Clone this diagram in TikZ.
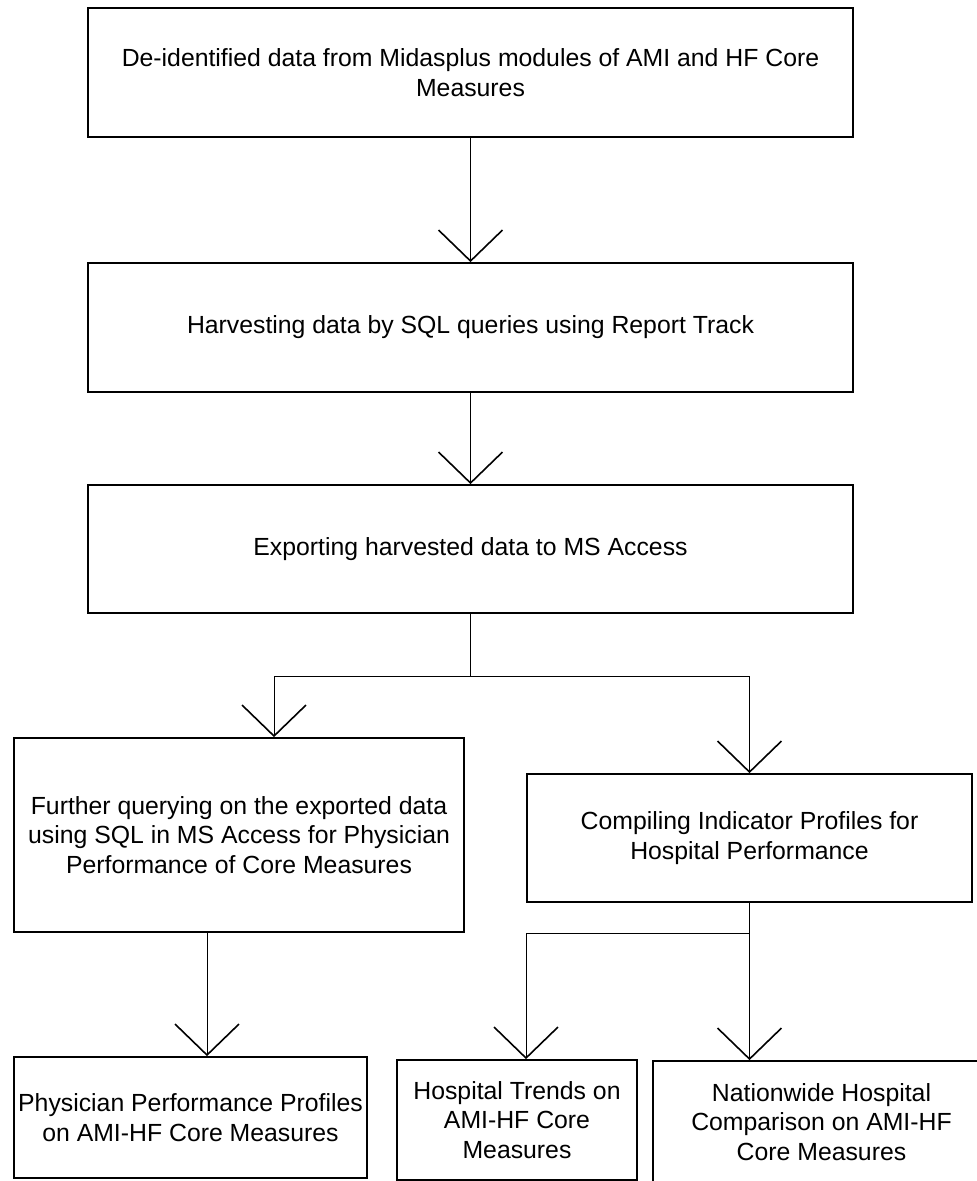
\documentclass[tikz,border=0pt]{standalone}
\usepackage{fontspec}
\setmainfont{Liberation Sans}
\usetikzlibrary{arrows.meta}
\begin{document}
\begin{tikzpicture}[x=0.75pt,y=-0.75pt,
  box/.style={draw=black, line width=1.3pt, align=center, inner sep=0pt,
    font=\fontsize{18.6pt}{22.4pt}\selectfont},
  conn/.style={draw=black, line width=0.75pt},
  arr/.style={-{Straight Barb[length=23.25pt,width=48pt,line width=1.2pt]}},
]
\useasboundingbox (0,0) rectangle (977,1181);
\clip (0,0) rectangle (977,1181);
\fill[white] (0,0) rectangle (977,1181);

\node[box, minimum width={765*0.75pt}, minimum height={129*0.75pt}] (b1) at (470.5,72.5)
  {De-identified data from Midasplus modules of AMI and HF Core\\Measures};
\node[box, minimum width={765*0.75pt}, minimum height={129*0.75pt}] (b2) at (470.5,327.5)
  {Harvesting data by SQL queries using Report Track};
\node[box, minimum width={765*0.75pt}, minimum height={128*0.75pt}] (b3) at (470.5,549)
  {Exporting harvested data to MS Access};
\node[box, minimum width={450*0.75pt}, minimum height={194*0.75pt}] (b4) at (239,835)
  {Further querying on the exported data\\using SQL in MS Access for Physician\\Performance of Core Measures};
\node[box, minimum width={445*0.75pt}, minimum height={128*0.75pt}] (b5) at (749.5,838)
  {Compiling Indicator Profiles for\\Hospital Performance};
\node[box, minimum width={353*0.75pt}, minimum height={121*0.75pt}] (b6) at (190.5,1117.5)
  {Physician Performance Profiles\\on AMI-HF Core Measures};
\node[box, minimum width={240*0.75pt}, minimum height={120*0.75pt}] (b7) at (517,1120)
  {Hospital Trends on\\AMI-HF Core\\Measures};
\node[box, minimum width={337*0.75pt}, minimum height={122*0.75pt}] (b8) at (821.5,1122)
  {Nationwide Hospital\\Comparison on AMI-HF\\Core Measures};

\coordinate (sp) at (470.5,676);
\coordinate (j2) at (749.5,933);
\coordinate (a4) at (274,0);
\coordinate (a6) at (207,0);
\coordinate (a7) at (526,0);

\draw[conn,arr] (b1.south) -- (b2.north);
\draw[conn,arr] (b2.south) -- (b3.north);
\draw[conn] (b3.south) -- (sp);
\draw[conn,arr] (sp) -| (b4.north -| a4);
\draw[conn,arr] (sp) -| (b5.north);
\draw[conn,arr] (b4.south -| a6) -- (b6.north -| a6);
\draw[conn,arr] (b5.south) -- (b5.south |- b8.north);
\draw[conn,arr] (j2) -| (b7.north -| a7);
\end{tikzpicture}
\end{document}
